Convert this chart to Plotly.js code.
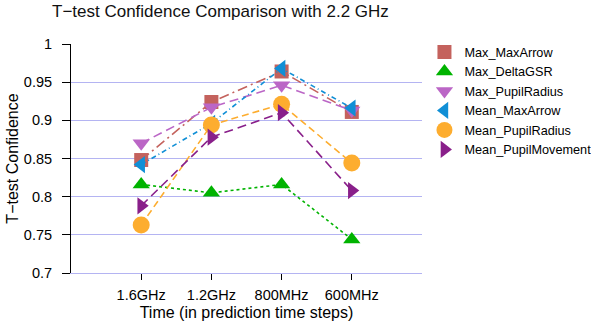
<!DOCTYPE html>
<html><head><meta charset="utf-8">
<script src="https://cdn.plot.ly/plotly-3.0.1.min.js"></script>
<style>body{margin:0;background:#fff}#c{width:591px;height:329px}</style>
</head><body><div id="c"></div>
<script>
const categories = ["1.6GHz", "1.2GHz", "800MHz", "600MHz"];
const seriesNames = ["Max_MaxArrow", "Max_DeltaGSR", "Max_PupilRadius", "Mean_MaxArrow", "Mean_PupilRadius", "Mean_PupilMovement"];
const maxMaxArrow = [0.848, 0.924, 0.964, 0.911];
const maxDeltaGSR = [0.816, 0.805, 0.816, 0.744];
const maxPupilRadius = [0.870, 0.917, 0.946, 0.913];
const meanMaxArrow = [0.842, 0.896, 0.968, 0.916];
const meanPupilRadius = [0.763, 0.894, 0.921, 0.844];
const meanPupilMovement = [0.788, 0.878, 0.910, 0.808];
const yTicks = [0.7, 0.75, 0.8, 0.85, 0.9, 0.95, 1];

const values = [maxMaxArrow, maxDeltaGSR, maxPupilRadius, meanMaxArrow, meanPupilRadius, meanPupilMovement];
const colors = ["#c4625d", "#00b300", "#bb66c6", "#108fd6", "#fdad2f", "#891f8a"];
const symbols = ["square", "triangle-up", "triangle-down", "triangle-left", "circle", "triangle-right"];
const dashes = ["10px,4px,2px,4px", "3px,3px", "9px,5px", "5px,3px,1px,3px", "7px,4px", "9px,5px"];
const sizes = [14, 15, 15, 15, 17, 15];
const xIdx = categories.map((c, i) => i);

const traces = values.map((v, i) => ({
  x: xIdx, y: v, type: "scatter", mode: "lines+markers", name: seriesNames[i],
  line: {color: colors[i], width: 1.6, dash: dashes[i]},
  marker: {color: colors[i], symbol: symbols[i], size: sizes[i]}
}));

const layout = {
  width: 591, height: 329,
  margin: {l: 71, r: 169, t: 44, b: 56, autoexpand: false},
  paper_bgcolor: "#fff", plot_bgcolor: "#fff",
  font: {family: "Liberation Sans, Arial, sans-serif", color: "#000"},
  title: {text: "T\u2212test Confidence Comparison with 2.2 GHz", x: 0.088, xanchor: "left", y: 0.965, yanchor: "middle", font: {size: 17, color: "#111"}},
  xaxis: {
    range: [-1, 4], tickvals: xIdx, ticktext: categories,
    showgrid: false, zeroline: false, showline: true, linecolor: "#b4b4f2", linewidth: 1,
    ticks: "outside", ticklen: 6, tickcolor: "#000", ticklabelstandoff: 3,
    tickfont: {size: 14.5},
    title: {text: "Time (in prediction time steps)", font: {size: 16}, standoff: 4}
  },
  yaxis: {
    range: [0.7, 1], tickvals: yTicks, ticktext: yTicks.map(String),
    showgrid: true, gridcolor: "#b4b4f2", gridwidth: 1, zeroline: false,
    showline: true, linecolor: "#000", linewidth: 1,
    ticks: "outside", ticklen: 8, tickcolor: "#000", ticklabelstandoff: 7,
    tickfont: {size: 14.5},
    title: {text: "T\u2212test Confidence", font: {size: 16}, standoff: 1}
  },
  legend: {x: 1.007, xanchor: "left", y: 1.03, yanchor: "top", font: {size: 12.7}, bgcolor: "rgba(0,0,0,0)", itemwidth: 30, tracegroupgap: 0}
};
Plotly.newPlot("c", traces, layout, {displayModeBar: false, staticPlot: true}).then(() => {
  document.querySelectorAll(".legendlines path").forEach(p => p.style.display = "none");
});
</script></body></html>
